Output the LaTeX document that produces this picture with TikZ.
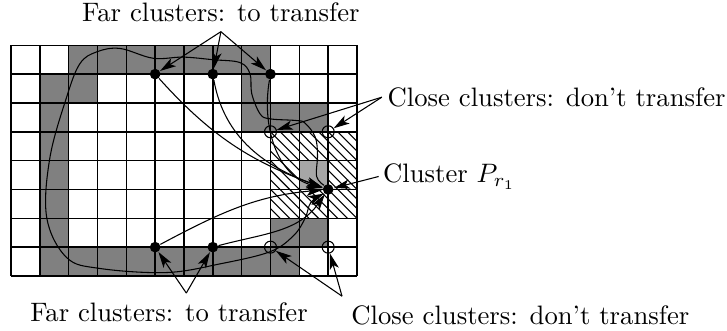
\documentclass[tikz,border=0pt]{standalone}
\usepackage{amsmath}
\usepackage{tikz}
\usetikzlibrary{calc, arrows.meta}
\definecolor{cellgray}{gray}{0.5}
\definecolor{lightcell}{gray}{0.65}

\begin{document}
\begin{tikzpicture}[x=0.38cm, y=0.38cm]

        % 0. Picture limits
        \useasboundingbox (-0.38,-1.88) rectangle (24.83,9.57);

        % 1. Styles
        \tikzset{
            vertex/.style={fill=black, circle, minimum size=4pt, inner sep=0pt},
            hollow/.style={draw=black, circle, minimum size=4.5pt, inner sep=0pt, thin},
            arr/.style={thin, -{Stealth[length=6pt, width=3.5pt, inset=1.5pt]}}
        }

        % 2. Grey cells (border of the region)
        \foreach \c in {2,...,8} \fill[cellgray] (\c,7) rectangle ++(1,1); % top row
        \foreach \c in {1,...,9} \fill[cellgray] (\c,0) rectangle ++(1,1); % bottom row
        \foreach \r in {1,...,6} \fill[cellgray] (1,\r) rectangle ++(1,1); % left column
        \foreach \c/\r in {2/6, 8/6, 8/5, 9/5, 10/5, 9/1, 10/1}
            \fill[cellgray] (\c,\r) rectangle ++(1,1);

        % 3. Hatched neighbourhood of the cluster
        \begin{scope}
            \clip (9,2) rectangle (12,5);
            \foreach \a in {0,...,18} \draw[thin] (6+\a/3,5) -- ++(3,-3);
        \end{scope}
        \fill[lightcell] (10,3) rectangle ++(1,1);

        % 4. The grid
        \draw[line width=0.6pt] (0,0) grid[step=1] (12,8);

        % 5. Clusters
        \node[vertex] (ft1) at (5,7) {};
        \node[vertex] (ft2) at (7,7) {};
        \node[vertex] (ft3) at (9,7) {};
        \node[vertex] (fb1) at (5,1) {};
        \node[vertex] (fb2) at (7,1) {};
        \node[hollow] (ct1) at (9,5) {};
        \node[hollow] (ct2) at (11,5) {};
        \node[hollow] (cb1) at (9,1) {};
        \node[hollow] (cb2) at (11,1) {};
        \node[vertex] (Pr) at (11,3) {};

        % 6. Labels
        \node (farTop) at (7.28,9.13) {Far clusters: to transfer};
        \node[anchor=west, inner sep=2pt] (closeTop) at (12.86,6.2) {Close clusters: don't transfer};
        \node[anchor=west, inner sep=1.5pt] (clusterLab) at (12.75,3.45) {Cluster $P_{r_1}$};
        \node (farBot) at (5.48,-1.25) {Far clusters: to transfer};
        \node[anchor=north west] (closeBot) at (11.48,-0.7) {Close clusters: don't transfer};
        \coordinate (fbTip) at ($(farBot.north)+(0.6,0)$);

        % 7. Arrows from the labels
        \draw[arr] (farTop.south) -- (ft1);
        \draw[arr] (farTop.south) -- (ft2);
        \draw[arr] (farTop.south) -- (ft3);
        \draw[arr] (closeTop.west) -- (ct1);
        \draw[arr] (closeTop.west) -- (ct2);
        \draw[arr] (clusterLab.west) -- (Pr);
        \draw[arr] (fbTip) -- (fb1);
        \draw[arr] (fbTip) -- (fb2);
        \draw[arr] (closeBot.north west) -- (cb1);
        \draw[arr] (closeBot.north west) -- (cb2);

        % 8. Far clusters sent to P_r1
        \draw[arr] (ft1) to[out=-48, in=160] (Pr);
        \draw[arr] (ft2) to[out=-80, in=160] (Pr);
        \draw[arr] (ft3) to[out=-100, in=165] (Pr);
        \draw[arr] (fb1) to[out=28, in=185] (Pr);
        \draw[arr] (fb2) to[out=15, in=235] (Pr);

        % 9. Path round the region
        \draw[arr] plot[smooth, tension=0.6] coordinates {(Pr.north west) (10.6,3.45) (10.63,4.2)
            (10.55,4.82) (10.2,5.3) (9.9,5.39) (8.98,5.45) (8.64,5.62) (8.35,6.32) (8.29,7.01)
            (7.94,7.4) (7.0,7.5) (5.97,7.59) (4.93,7.55) (3.78,7.89) (2.97,7.77) (2.39,7.36)
            (1.93,6.2) (1.35,4.1) (1.24,2.03) (1.93,0.64) (3.09,0.26) (5.4,0.12) (7.25,0.42)
            (8.98,0.84) (9.8,1.4) (10.2,2.0) (10.4,2.55) (Pr.south west)};

\end{tikzpicture}
\end{document}
